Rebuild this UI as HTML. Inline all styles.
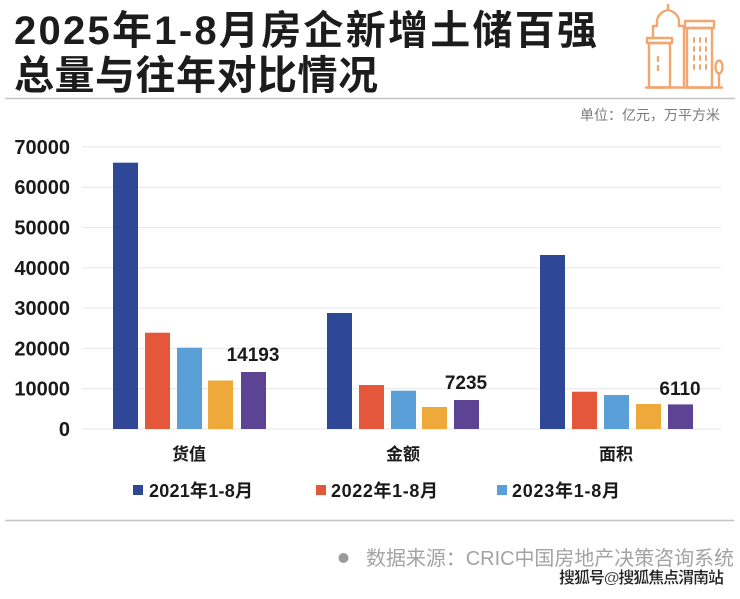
<!DOCTYPE html>
<html><head><meta charset="utf-8"><style>
html,body{margin:0;padding:0;background:#fff;}
svg{display:block;}
text{font-family:"Liberation Sans","Noto Sans CJK SC",sans-serif;}
</style></head><body>
<svg width="740" height="599" viewBox="0 0 740 599" xmlns="http://www.w3.org/2000/svg">
<rect width="740" height="599" fill="#fff"/>
<!-- Title -->
<text x="14" y="44" font-size="40" font-weight="bold" fill="#1c1c1c" textLength="583" lengthAdjust="spacing">2025年1-8月房企新增土储百强</text>
<text x="14" y="89" font-size="40" font-weight="bold" fill="#1c1c1c" textLength="364" lengthAdjust="spacing">总量与往年对比情况</text>
<line x1="5" y1="98.5" x2="735" y2="98.5" stroke="#c4c4c4" stroke-width="1.5"/>
<!-- Icon -->
<g fill="none" stroke="#f2a770" stroke-width="2.4" stroke-linejoin="round" stroke-linecap="round">
<line x1="646" y1="87.5" x2="722" y2="87.5"/>
<rect x="649" y="43" width="21" height="44.5"/>
<rect x="647" y="38" width="25" height="5"/>
<line x1="658" y1="57" x2="658" y2="61"/>
<line x1="658" y1="66" x2="658" y2="70"/>
<path d="M653,38 V26 H657 V20 Q659,12 668,10 Q677,12 679,20 V26 H684 V87"/>
<line x1="668" y1="5" x2="668" y2="10"/>
<rect x="687" y="28" width="25" height="59.5"/>
<rect x="685" y="21" width="29" height="7"/>
<g stroke-width="2">
<line x1="694" y1="38" x2="694" y2="42"/><line x1="700" y1="38" x2="700" y2="42"/><line x1="706" y1="38" x2="706" y2="42"/>
<line x1="694" y1="47" x2="694" y2="51"/><line x1="700" y1="47" x2="700" y2="51"/><line x1="706" y1="47" x2="706" y2="51"/>
<line x1="694" y1="56" x2="694" y2="60"/><line x1="700" y1="56" x2="700" y2="60"/><line x1="706" y1="56" x2="706" y2="60"/>
<line x1="694" y1="65" x2="694" y2="69"/><line x1="700" y1="65" x2="700" y2="69"/><line x1="706" y1="65" x2="706" y2="69"/>
</g>
<ellipse cx="719" cy="67" rx="3.5" ry="6.5"/>
<line x1="719" y1="73" x2="719" y2="87"/>
</g>
<!-- Unit -->
<text x="720" y="120" font-size="14" fill="#7a7a7a" text-anchor="end">单位：亿元，万平方米</text>
<!-- Gridlines -->
<g stroke="#e6e6e6" stroke-width="1">
<line x1="82" y1="146.9" x2="721" y2="146.9"/>
<line x1="82" y1="187.2" x2="721" y2="187.2"/>
<line x1="82" y1="227.5" x2="721" y2="227.5"/>
<line x1="82" y1="267.8" x2="721" y2="267.8"/>
<line x1="82" y1="308.1" x2="721" y2="308.1"/>
<line x1="82" y1="348.4" x2="721" y2="348.4"/>
<line x1="82" y1="388.7" x2="721" y2="388.7"/>
<line x1="82" y1="429" x2="721" y2="429"/>
</g>
<!-- Y labels -->
<g font-size="20" font-weight="bold" fill="#1a1a1a" text-anchor="end">
<text x="70" y="154">70000</text>
<text x="70" y="194.2">60000</text>
<text x="70" y="234.5">50000</text>
<text x="70" y="274.8">40000</text>
<text x="70" y="315.1">30000</text>
<text x="70" y="355.4">20000</text>
<text x="70" y="395.7">10000</text>
<text x="70" y="436">0</text>
</g>
<!-- Bars -->
<g>
<rect x="113" y="162.7" width="25" height="266.3" fill="#2f4797"/>
<rect x="145" y="332.7" width="25" height="96.3" fill="#e4573a"/>
<rect x="177" y="347.7" width="25" height="81.3" fill="#5b9fd8"/>
<rect x="208" y="380.5" width="25" height="48.5" fill="#efa93a"/>
<rect x="241" y="372" width="25" height="57" fill="#5c4393"/>

<rect x="327" y="313" width="25" height="116" fill="#2f4797"/>
<rect x="359" y="385" width="25" height="44" fill="#e4573a"/>
<rect x="391" y="390.7" width="25" height="38.3" fill="#5b9fd8"/>
<rect x="422" y="407" width="25" height="22" fill="#efa93a"/>
<rect x="454" y="400" width="25" height="29" fill="#5c4393"/>

<rect x="540" y="255" width="25" height="174" fill="#2f4797"/>
<rect x="572" y="391.7" width="25" height="37.3" fill="#e4573a"/>
<rect x="604" y="395" width="25" height="34" fill="#5b9fd8"/>
<rect x="636" y="404" width="25" height="25" fill="#efa93a"/>
<rect x="668" y="404.4" width="25" height="24.6" fill="#5c4393"/>
</g>
<!-- Value labels -->
<g font-size="19" font-weight="bold" fill="#1a1a1a" text-anchor="middle">
<text x="253" y="361">14193</text>
<text x="466" y="389">7235</text>
<text x="680" y="395">6110</text>
</g>
<!-- Category labels -->
<g font-size="17" font-weight="bold" fill="#1a1a1a" text-anchor="middle">
<text x="189" y="460">货值</text>
<text x="403" y="460">金额</text>
<text x="616" y="460">面积</text>
</g>
<!-- Legend -->
<rect x="133" y="485" width="10" height="10" fill="#2f4797"/>
<rect x="316" y="485" width="10" height="10" fill="#e4573a"/>
<rect x="497" y="485" width="10" height="10" fill="#5b9fd8"/>
<g font-size="18" font-weight="bold" fill="#1a1a1a">
<text x="149" y="497" textLength="104" lengthAdjust="spacing">2021年1-8月</text>
<text x="331" y="497" textLength="107" lengthAdjust="spacing">2022年1-8月</text>
<text x="512" y="497" textLength="108" lengthAdjust="spacing">2023年1-8月</text>
</g>
<line x1="5" y1="520.5" x2="734" y2="520.5" stroke="#c4c4c4" stroke-width="1.5"/>
<!-- Source -->
<circle cx="343.5" cy="558" r="5" fill="#9a9a9a"/>
<text x="366" y="565" font-size="20" fill="#a3a3a3" textLength="368" lengthAdjust="spacing">数据来源：CRIC中国房地产决策咨询系统</text>
<text x="559" y="583" font-size="16" font-weight="bold" fill="#222" stroke="#fff" stroke-width="0.3" textLength="165" lengthAdjust="spacing">搜狐号@搜狐焦点渭南站</text>
</svg>
</body></html>
